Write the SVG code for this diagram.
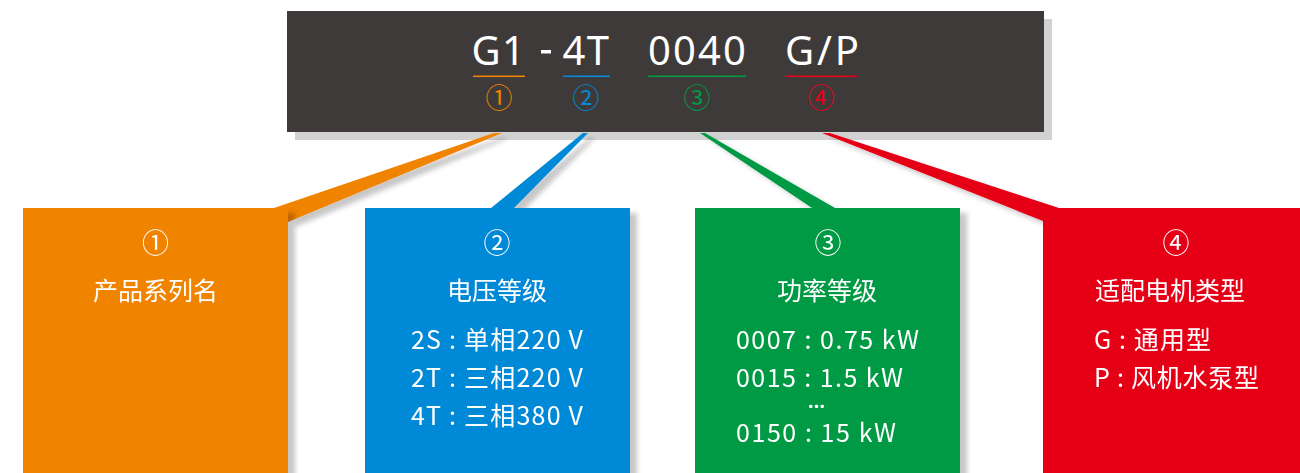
<svg xmlns="http://www.w3.org/2000/svg" width="1300" height="473" viewBox="0 0 1300 473">
<defs>
<filter id="sh" x="-20%" y="-20%" width="140%" height="140%">
<feDropShadow dx="7" dy="5" stdDeviation="2.5" flood-color="#000" flood-opacity="0.22"/>
</filter>
</defs>
<style>
.t{font-family:"Noto Sans CJK SC","Noto Sans",sans-serif;fill:#fff;}
.code{font-family:"Noto Sans","Noto Sans CJK SC",sans-serif;font-size:40px;fill:#fff;}
.num{font-family:"Noto Sans CJK SC",sans-serif;font-size:27px;text-anchor:middle;}
.h{font-size:25px;text-anchor:middle;}
.l{font-size:25px;}
.dots{font-family:"Noto Sans",sans-serif;font-size:20px;font-weight:bold;fill:#fff;text-anchor:middle;}
.orange{fill:#f08300;}
.blue{fill:#0389d6;}
.green{fill:#009a44;}
.red{fill:#e50019;}
</style>
<rect width="1300" height="473" fill="#fff"/>

<g id="header">
<rect x="295" y="19" width="757" height="121" fill="#d2d2d2"/>
<rect x="287" y="11" width="757" height="121" fill="#3e3a39"/>
<text class="code" x="471.5" y="65" textLength="53.5">G1</text>
<rect x="541" y="50" width="10" height="3.5" fill="#fff"/>
<text class="code" x="562.6" y="65" textLength="46.4">4T</text>
<text class="code" x="648" y="65" textLength="98">0040</text>
<text class="code" x="785" y="65" textLength="74">G/P</text>
<rect x="473" y="75.5" width="52" height="1.6" fill="#f08300"/>
<rect x="563" y="75.5" width="47" height="1.6" fill="#0389d6"/>
<rect x="648" y="75.5" width="98" height="1.6" fill="#009a44"/>
<rect x="785" y="75.5" width="72" height="1.6" fill="#e50019"/>
<text class="num orange" x="499" y="108">①</text>
<text class="num blue" x="586" y="108">②</text>
<text class="num green" x="697" y="108">③</text>
<text class="num red" x="821" y="108">④</text>
</g>

<g id="connectors" filter="url(#sh)">
<polygon class="orange" points="494,133 502,133 288,222 288,208 274,208"/>
<polygon class="blue" points="583,133 588,133 514,208 491,208"/>
<polygon class="green" points="700,133 705,133 835,208 812,208"/>
<polygon class="red" points="822,133 830,133 1059,208 1043,208 1043,221"/>
</g>

<g id="node1" filter="url(#sh)">
<rect class="orange" x="23" y="208" width="265" height="270"/>
<text class="t num" x="155.5" y="253">①</text>
<text class="t h" x="155.5" y="300">产品系列名</text>
</g>

<g id="node2" filter="url(#sh)">
<rect class="blue" x="365" y="208" width="265" height="270"/>
<text class="t num" x="497" y="253">②</text>
<text class="t h" x="497" y="300">电压等级</text>
<text class="t l" x="411" y="349" textLength="172">2S : 单相220 V</text>
<text class="t l" x="411" y="387" textLength="172">2T : 三相220 V</text>
<text class="t l" x="411" y="425" textLength="172">4T : 三相380 V</text>
</g>

<g id="node3" filter="url(#sh)">
<rect class="green" x="695" y="208" width="265" height="270"/>
<text class="t num" x="828" y="253">③</text>
<text class="t h" x="827" y="300">功率等级</text>
<text class="t l" x="736" y="349" textLength="183">0007 : 0.75 kW</text>
<text class="t l" x="736" y="387" textLength="167">0015 : 1.5 kW</text>
<text class="dots" x="816.5" y="408">…</text>
<text class="t l" x="736" y="442" textLength="160">0150 : 15 kW</text>
</g>

<g id="node4" filter="url(#sh)">
<rect class="red" x="1043" y="208" width="270" height="270"/>
<text class="t num" x="1176" y="253">④</text>
<text class="t h" x="1170" y="300">适配电机类型</text>
<text class="t l" x="1094" y="349" textLength="117">G : 通用型</text>
<text class="t l" x="1094" y="387" textLength="165">P : 风机水泵型</text>
</g>
</svg>
